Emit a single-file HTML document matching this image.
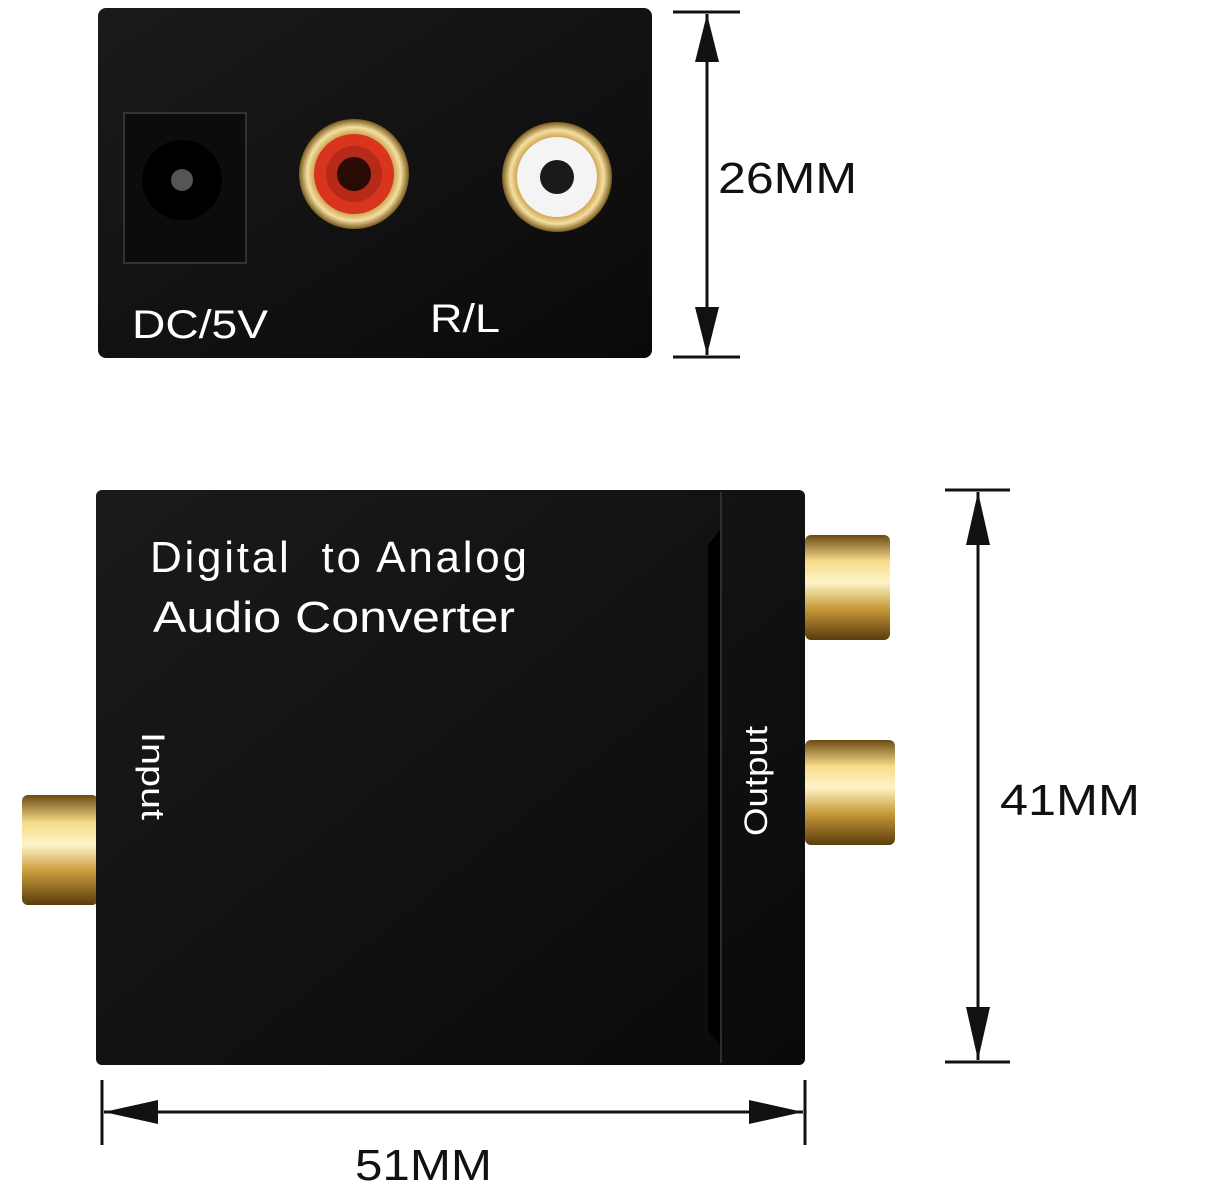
<!DOCTYPE html>
<html><head><meta charset="utf-8"><style>
html,body{margin:0;padding:0;background:#fff;}
svg{display:block;}
text{font-family:"Liberation Sans",sans-serif;}
</style></head><body>
<svg width="1220" height="1192" viewBox="0 0 1220 1192" xmlns="http://www.w3.org/2000/svg">
<defs>
<linearGradient id="gold" x1="0" y1="0" x2="0" y2="1">
<stop offset="0" stop-color="#6b4a12"/><stop offset="0.25" stop-color="#f6dc8a"/><stop offset="0.45" stop-color="#fff4c8"/><stop offset="0.7" stop-color="#c89a3a"/><stop offset="1" stop-color="#5a3c0c"/>
</linearGradient>
<radialGradient id="ring" cx="0.5" cy="0.5" r="0.5">
<stop offset="0.7" stop-color="#c79a45"/><stop offset="0.85" stop-color="#f5dfa0"/><stop offset="1" stop-color="#7a5a1e"/>
</radialGradient>
<linearGradient id="body" x1="0" y1="0" x2="1" y2="1">
<stop offset="0" stop-color="#1a1a1a"/><stop offset="1" stop-color="#0a0a0a"/>
</linearGradient>
</defs>
<rect x="98" y="8" width="554" height="350" rx="8" fill="url(#body)"/>
<rect x="124" y="113" width="122" height="150" fill="#0c0c0c" stroke="#333" stroke-width="2"/>
<circle cx="182" cy="180" r="40" fill="#000"/>
<circle cx="182" cy="180" r="11" fill="#555"/>
<circle cx="354" cy="174" r="55" fill="url(#ring)"/>
<circle cx="354" cy="174" r="40" fill="#d8341e"/>
<circle cx="354" cy="174" r="28" fill="#b52a18"/>
<circle cx="354" cy="174" r="17" fill="#2a0a05"/>
<circle cx="557" cy="177" r="55" fill="url(#ring)"/>
<circle cx="557" cy="177" r="40" fill="#f4f4f4"/>
<circle cx="557" cy="177" r="17" fill="#1a1a1a"/>
<text x="132" y="338" font-size="40" fill="#fff" textLength="136" lengthAdjust="spacingAndGlyphs">DC/5V</text>
<text x="430" y="332" font-size="40" fill="#fff" textLength="70" lengthAdjust="spacingAndGlyphs">R/L</text>
<g stroke="#111" stroke-width="3">
<line x1="673" y1="12" x2="740" y2="12"/><line x1="673" y1="357" x2="740" y2="357"/>
<line x1="707" y1="14" x2="707" y2="355"/>
</g>
<polygon points="707,14 695,62 719,62" fill="#111"/>
<polygon points="707,355 695,307 719,307" fill="#111"/>
<text x="718" y="193" font-size="44" fill="#111" textLength="139" lengthAdjust="spacingAndGlyphs">26MM</text>
<rect x="22" y="795" width="76" height="110" rx="6" fill="url(#gold)"/>
<rect x="805" y="535" width="85" height="105" rx="6" fill="url(#gold)"/>
<rect x="805" y="740" width="90" height="105" rx="6" fill="url(#gold)"/>
<rect x="96" y="490" width="709" height="575" rx="6" fill="url(#body)"/>
<line x1="721" y1="492" x2="721" y2="1063" stroke="#2e2e2e" stroke-width="2"/>
<polygon points="708,545 720,530 720,1045 708,1030" fill="#000"/>
<text x="150" y="572" font-size="44" fill="#fff" textLength="377" lengthAdjust="spacing">Digital&#160;&#160;to Analog</text>
<text x="153" y="632" font-size="44" fill="#fff" textLength="362" lengthAdjust="spacingAndGlyphs">Audio Converter</text>
<text transform="translate(142,732) rotate(90)" font-size="32" fill="#fff" textLength="88" lengthAdjust="spacingAndGlyphs">Input</text>
<text transform="translate(767,836) rotate(-90)" font-size="32" fill="#fff" textLength="110" lengthAdjust="spacingAndGlyphs">Output</text>
<g stroke="#111" stroke-width="3">
<line x1="945" y1="490" x2="1010" y2="490"/><line x1="945" y1="1062" x2="1010" y2="1062"/>
<line x1="978" y1="492" x2="978" y2="1060"/>
</g>
<polygon points="978,492 966,545 990,545" fill="#111"/>
<polygon points="978,1060 966,1007 990,1007" fill="#111"/>
<text x="1000" y="815" font-size="44" fill="#111" textLength="140" lengthAdjust="spacingAndGlyphs">41MM</text>
<g stroke="#111" stroke-width="3">
<line x1="102" y1="1080" x2="102" y2="1145"/><line x1="805" y1="1080" x2="805" y2="1145"/>
<line x1="104" y1="1112" x2="803" y2="1112"/>
</g>
<polygon points="104,1112 158,1100 158,1124" fill="#111"/>
<polygon points="803,1112 749,1100 749,1124" fill="#111"/>
<text x="355" y="1180" font-size="44" fill="#111" textLength="137" lengthAdjust="spacingAndGlyphs">51MM</text>
</svg>
</body></html>
